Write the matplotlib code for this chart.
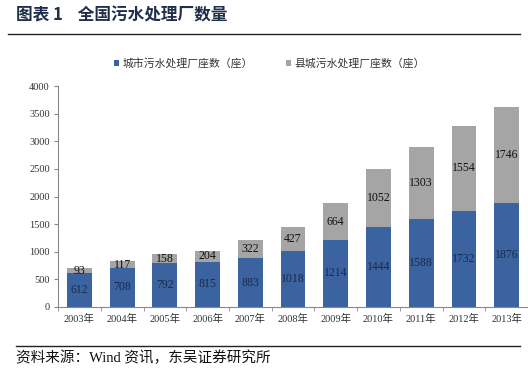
import matplotlib.pyplot as plt
import numpy as np

years = ["2003年", "2004年", "2005年", "2006年", "2007年", "2008年",
         "2009年", "2010年", "2011年", "2012年", "2013年"]
city = [612, 708, 792, 815, 883, 1018, 1214, 1444, 1588, 1732, 1876]
county = [93, 117, 158, 204, 322, 427, 664, 1052, 1303, 1554, 1746]
series_names = ["城市污水处理厂座数（座）", "县城污水处理厂座数（座）"]

plt.rcParams['font.family'] = ['Noto Sans CJK SC', 'DejaVu Sans']
serif_cjk = ['Liberation Serif', 'Noto Sans CJK SC', 'DejaVu Sans']

blue = "#3A63A0"
grey = "#A5A5A5"

fig = plt.figure(figsize=(5.28, 3.68), dpi=100)
ax = fig.add_axes([0.11, 0.166, 0.89, 0.60])

x = np.arange(len(years))
w = 0.58
ax.bar(x, city, w, color=blue, label=series_names[0])
ax.bar(x, county, w, bottom=city, color=grey, label=series_names[1])

num_font = {'family': ['Liberation Serif'], 'size': 8.5}
for i in range(len(years)):
    ax.text(x[i], city[i] / 2, str(city[i]), ha='center', va='center',
            color="#1A2A4A", fontdict=num_font)
    ax.text(x[i], city[i] + county[i] / 2, str(county[i]), ha='center',
            va='center', color="#111111", fontdict=num_font)

ax.set_xlim(-0.5, 10.43)
ax.set_ylim(0, 4000)
ax.set_yticks(range(0, 4001, 500))
ax.set_xticks(x)
ax.set_xticklabels(years)
ax.set_xticks(np.arange(-0.5, 10.6, 1), minor=True)
ax.tick_params(axis='x', which='major', length=0, pad=5,
               labelcolor="#333333")
ax.tick_params(axis='x', which='minor', length=3, color="#888888",
               direction='out')
ax.tick_params(axis='y', length=3, color="#888888",
               labelcolor="#333333", pad=3)
for lab in ax.get_xticklabels():
    lab.set_family(serif_cjk)
    lab.set_fontsize(7.5)
for lab in ax.get_yticklabels():
    lab.set_family(['Liberation Serif'])
    lab.set_fontsize(7.5)
for s in ["top", "right"]:
    ax.spines[s].set_visible(False)
for s in ["left", "bottom"]:
    ax.spines[s].set_color("#888888")
    ax.spines[s].set_linewidth(0.8)

leg = fig.legend(loc='center', bbox_to_anchor=(0.51, 0.828), ncol=2,
                 frameon=False, fontsize=7.8, handlelength=0.5,
                 handleheight=0.5, columnspacing=3.0, handletextpad=0.3,
                 labelcolor="#333333")

fig.text(0.03, 0.957, "图表 1    全国污水处理厂数量", fontsize=12,
         fontweight='bold', color="#1F2F4A", va='center', ha='left')
fig.text(0.03, 0.027, "资料来源：Wind 资讯，东吴证券研究所", fontsize=10.5,
         family=serif_cjk, color="#111111", va='center', ha='left')
fig.add_artist(plt.Line2D([0.015, 0.985], [0.907, 0.907], color="#222222",
                          lw=1.0, transform=fig.transFigure))
fig.add_artist(plt.Line2D([0.03, 0.985], [0.06, 0.06], color="#222222",
                          lw=1.0, transform=fig.transFigure))

fig.savefig("out.png", dpi=100)
